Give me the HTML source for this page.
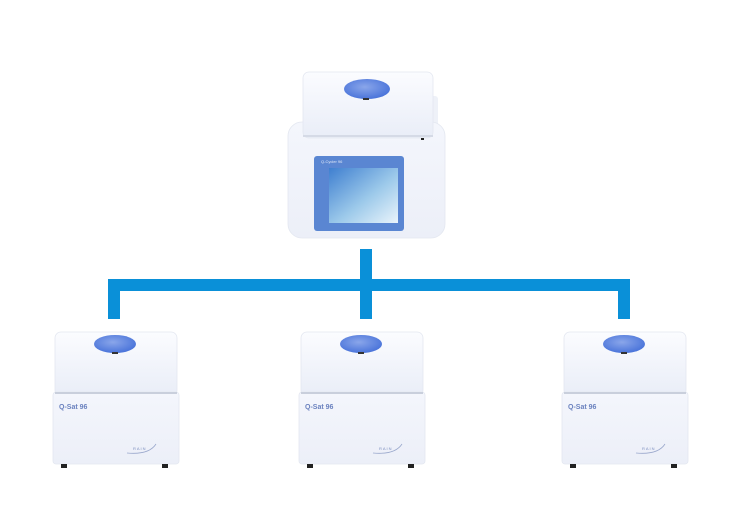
<!DOCTYPE html>
<html><head><style>
html,body{margin:0;padding:0;background:#fff;width:738px;height:531px;overflow:hidden}
svg{display:block}
</style></head><body>
<svg width="738" height="531" viewBox="0 0 738 531" xmlns="http://www.w3.org/2000/svg">
<defs>
<linearGradient id="lid" x1="0" y1="0" x2="0" y2="1">
<stop offset="0" stop-color="#fbfcff"/><stop offset="1" stop-color="#e9edf7"/></linearGradient>
<linearGradient id="body" x1="0" y1="0" x2="0" y2="1">
<stop offset="0" stop-color="#f4f6fc"/><stop offset="1" stop-color="#eceff8"/></linearGradient>
<radialGradient id="knob" cx="0.45" cy="0.4" r="0.6">
<stop offset="0" stop-color="#8aa6ea"/><stop offset="1" stop-color="#4a74da"/></radialGradient>
<linearGradient id="scr" x1="0" y1="0" x2="1" y2="1">
<stop offset="0" stop-color="#3f7fd0"/><stop offset="0.55" stop-color="#9cc9ea"/><stop offset="1" stop-color="#eaf4fb"/></linearGradient>
<g id="unit">
<rect x="2" y="0" width="122" height="64" rx="6" fill="url(#lid)" stroke="#e3e7f0" stroke-width="0.8"/>
<rect x="0" y="60" width="126" height="72" rx="3" fill="url(#body)" stroke="#e3e7f0" stroke-width="0.8"/>
<rect x="2" y="60" width="122" height="2" fill="#c9cfdc"/>
<ellipse cx="62" cy="12" rx="21" ry="9" fill="url(#knob)"/>
<rect x="59" y="20" width="6" height="2" fill="#333"/>
<text x="6" y="77" font-family="Liberation Sans, sans-serif" font-size="7" font-weight="bold" fill="#6b82bf">Q-Sat 96</text>
<text x="80" y="118" font-family="Liberation Sans, sans-serif" font-size="4" fill="#7d8fbf" letter-spacing="1">RAIN</text>
<path d="M74 121 Q96 123 103 112" stroke="#9aa8cc" fill="none" stroke-width="0.8"/>
<rect x="8" y="132" width="6" height="4" fill="#222"/>
<rect x="109" y="132" width="6" height="4" fill="#222"/>
</g>
</defs>
<g fill="#0a90d8">
<rect x="360" y="249" width="12" height="70"/>
<rect x="108" y="279" width="522" height="12"/>
<rect x="108" y="279" width="12" height="40"/>
<rect x="618" y="279" width="12" height="40"/>
</g>
<rect x="420" y="96" width="18" height="40" rx="3" fill="#eef1f8"/>
<rect x="288" y="122" width="157" height="116" rx="14" fill="url(#body)" stroke="#e3e7f0" stroke-width="0.8"/>
<rect x="303" y="72" width="130" height="66" rx="6" fill="url(#lid)" stroke="#e3e7f0" stroke-width="0.8"/>
<rect x="303" y="135" width="130" height="2" fill="#d5dae6"/>
<rect x="421" y="138" width="3" height="2" fill="#222"/>
<ellipse cx="367" cy="89" rx="23" ry="10" fill="url(#knob)"/>
<rect x="363" y="98" width="6" height="2" fill="#333"/>
<rect x="314" y="156" width="90" height="75" rx="3" fill="#5a86d2"/>
<rect x="329" y="168" width="69" height="55" fill="url(#scr)"/>
<text x="321" y="163" font-family="Liberation Sans, sans-serif" font-size="4" fill="#dfe7f7">Q-Cycler 96</text>
<use href="#unit" x="53" y="332"/>
<use href="#unit" x="299" y="332"/>
<use href="#unit" x="562" y="332"/>
</svg>
</body></html>
